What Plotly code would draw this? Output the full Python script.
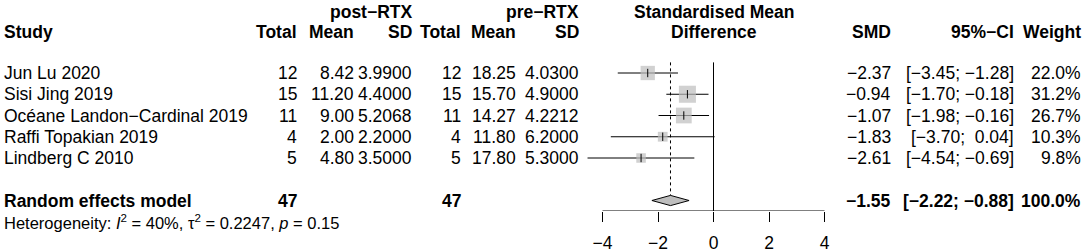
import plotly.graph_objects as go
import math

# ---------------- data ----------------
studies = ["Jun Lu 2020", "Sisi Jing 2019", "Océane Landon−Cardinal 2019",
           "Raffi Topakian 2019", "Lindberg C 2010"]
post_total = [12, 15, 11, 4, 5]
post_mean = [8.42, 11.20, 9.00, 2.00, 4.80]
post_sd = [3.9900, 4.4000, 5.2068, 2.2000, 3.5000]
pre_total = [12, 15, 11, 4, 5]
pre_mean = [18.25, 15.70, 14.27, 11.80, 17.80]
pre_sd = [4.0300, 4.9000, 4.2212, 6.2000, 5.3000]
smd = [-2.37, -0.94, -1.07, -1.83, -2.61]
ci_low = [-3.45, -1.70, -1.98, -3.70, -4.54]
ci_high = [-1.28, -0.18, -0.16, 0.04, -0.69]
weight = [22.0, 31.2, 26.7, 10.3, 9.8]

re_label = "Random effects model"
re_total_post = 47
re_total_pre = 47
re_smd = -1.55
re_low = -2.22
re_high = -0.88
re_weight = 100.0
het_text = "Heterogeneity: <i>I</i><sup>2</sup> = 40%, τ<sup>2</sup> = 0.2247, <i>p</i> = 0.15"
tick_vals = [-4, -2, 0, 2, 4]

# ---------------- layout constants ----------------
W, H = 1084, 252
FONT = "Liberation Sans, Arial, Helvetica, sans-serif"
FS = 17.5
FS_HET = 16.5
ROW0_PX = 73.0
ROW_PX = 21.25
AXIS_PX = 211.0
X0_PX = 713.5
PX_PER_UNIT = 27.75
XR = 5.0

k_top = (0 - ROW0_PX) / ROW_PX
k_bot = (AXIS_PX - ROW0_PX) / ROW_PX
dom0 = (X0_PX - XR * PX_PER_UNIT) / W
dom1 = (X0_PX + XR * PX_PER_UNIT) / W

RE_ROW = 6
HET_ROW = 7
HDR1 = -2.87
HDR2 = -1.93

col = {  # right edges in px
    "post_total": 298, "post_mean": 355, "post_sd": 413,
    "pre_total": 462, "pre_mean": 517, "pre_sd": 580,
    "smd": 892, "ci": 1015, "weight": 1082,
}
LEFT_PX = 3


def m(v):
    return f"{v:.2f}".replace("-", "−")


def ci_str(lo, hi):
    hs = m(hi)
    sep = "; " if hi < 0 else ";\u00a0\u00a0"
    return "[" + m(lo) + sep + hs + "]"


def ypaper(row):
    px = ROW0_PX + row * ROW_PX
    return (AXIS_PX - px) / AXIS_PX


fig = go.Figure()
anns = []


def txt(text, xpx, row, anchor="right", bold=False, size=FS):
    if bold:
        text = "<b>" + text + "</b>"
    anns.append(dict(text=text, x=xpx / W, xref="paper", y=ypaper(row), yref="paper",
                     xanchor=anchor, yanchor="middle", showarrow=False,
                     font=dict(family=FONT, size=size, color="black"),
                     borderpad=0))


# headers
txt("post−RTX", col["post_sd"], HDR1, bold=True)
txt("pre−RTX", col["pre_sd"], HDR1, bold=True)
txt("Standardised Mean", X0_PX, HDR1, anchor="center", bold=True)
txt("Difference", X0_PX, HDR2, anchor="center", bold=True)
txt("Study", LEFT_PX, HDR2, anchor="left", bold=True)
for key, lab in [("post_total", "Total"), ("post_mean", "Mean"), ("post_sd", "SD"),
                 ("pre_total", "Total"), ("pre_mean", "Mean"), ("pre_sd", "SD"),
                 ("smd", "SMD"), ("ci", "95%−CI"), ("weight", "Weight")]:
    txt(lab, col[key], HDR2, bold=True)

# study rows
for i, s in enumerate(studies):
    txt(s, LEFT_PX, i, anchor="left")
    txt(str(post_total[i]), col["post_total"], i)
    txt(f"{post_mean[i]:.2f}", col["post_mean"], i)
    txt(f"{post_sd[i]:.4f}", col["post_sd"], i)
    txt(str(pre_total[i]), col["pre_total"], i)
    txt(f"{pre_mean[i]:.2f}", col["pre_mean"], i)
    txt(f"{pre_sd[i]:.4f}", col["pre_sd"], i)
    txt(m(smd[i]), col["smd"], i)
    txt(ci_str(ci_low[i], ci_high[i]), col["ci"], i)
    txt(f"{weight[i]:.1f}%", col["weight"], i)

# random effects row
txt(re_label, LEFT_PX, RE_ROW, anchor="left", bold=True)
txt(str(re_total_post), col["post_total"], RE_ROW, bold=True)
txt(str(re_total_pre), col["pre_total"], RE_ROW, bold=True)
txt(m(re_smd), col["smd"], RE_ROW, bold=True)
txt(ci_str(re_low, re_high), col["ci"], RE_ROW, bold=True)
txt(f"{re_weight:.1f}%", col["weight"], RE_ROW, bold=True)
txt(het_text, LEFT_PX, HET_ROW, anchor="left", size=FS_HET)

rows = list(range(len(studies)))

# CI lines
for i in rows:
    fig.add_trace(go.Scatter(x=[ci_low[i], ci_high[i]], y=[i, i], mode="lines",
                             line=dict(color="black", width=1), hoverinfo="skip",
                             cliponaxis=False, showlegend=False))

# squares (size ~ sqrt(weight))
fig.add_trace(go.Scatter(x=smd, y=rows, mode="markers",
                         marker=dict(symbol="square", color="#bebebe",
                                     size=[3.05 * math.sqrt(w) for w in weight],
                                     line=dict(width=0)),
                         cliponaxis=False, showlegend=False))
# point estimate ticks
fig.add_trace(go.Scatter(x=smd, y=rows, mode="markers",
                         marker=dict(symbol="line-ns", size=6,
                                     line=dict(color="black", width=1)),
                         cliponaxis=False, showlegend=False))

# diamond
dh = 0.24
fig.add_trace(go.Scatter(x=[re_low, re_smd, re_high, re_smd, re_low],
                         y=[RE_ROW, RE_ROW - dh, RE_ROW, RE_ROW + dh, RE_ROW],
                         mode="lines", fill="toself", fillcolor="#bebebe",
                         line=dict(color="black", width=1), cliponaxis=False,
                         showlegend=False))

shapes = [
    dict(type="line", xref="x", yref="y", x0=0, x1=0, y0=-0.5, y1=k_bot,
         line=dict(color="black", width=1)),
    dict(type="line", xref="x", yref="y", x0=re_smd, x1=re_smd, y0=-0.5,
         y1=RE_ROW - dh, line=dict(color="black", width=1, dash="dot")),
    dict(type="line", xref="x", yref="y", x0=min(tick_vals), x1=max(tick_vals),
         y0=k_bot, y1=k_bot, line=dict(color="black", width=1)),
]

fig.update_layout(
    width=W, height=H,
    margin=dict(l=0, r=0, t=0, b=H - AXIS_PX, pad=0, autoexpand=False),
    paper_bgcolor="white", plot_bgcolor="white",
    showlegend=False,
    annotations=anns, shapes=shapes,
    xaxis=dict(domain=[dom0, dom1], range=[-XR, XR], showgrid=False,
               zeroline=False, showline=False, ticks="outside", ticklen=10,
               tickwidth=1, tickcolor="black", tickvals=tick_vals,
               tickfont=dict(family=FONT, size=FS, color="black"),
               ticklabelstandoff=6, automargin=False, fixedrange=True),
    yaxis=dict(range=[k_bot, k_top], visible=False, fixedrange=True,
               automargin=False),
)

fig.write_html("out.html", config={"displayModeBar": False},
               post_script="document.body.style.margin='0px';")
